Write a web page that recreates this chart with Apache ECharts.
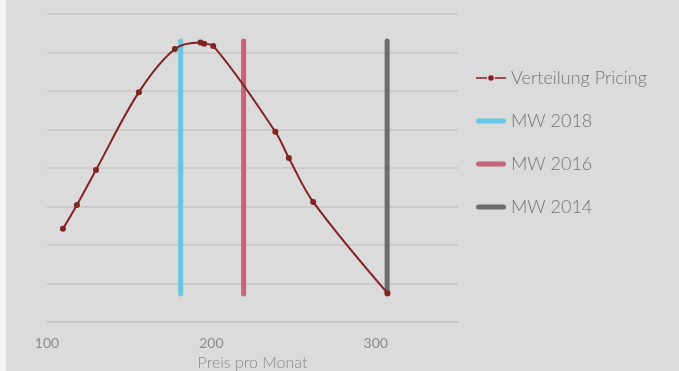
<!DOCTYPE html>
<html>
<head>
<meta charset="utf-8">
<script src="https://cdn.jsdelivr.net/npm/echarts@6/dist/echarts.min.js"></script>
<style>
  html, body { margin: 0; padding: 0; background: #f4f4f4; }
  #chart { position: absolute; left: 6px; top: 0; width: 673px; height: 371px; background: #dbdbdb; }
</style>
</head>
<body>
<div id="chart"></div>
<script>
// Preis pro Monat (x) und Verteilung (y, ohne Beschriftung)
const priceX = [109.7, 118.2, 129.8, 155.9, 177.8, 193.4, 195.6, 201.1, 238.9, 247.1, 261.9, 307.1]
const share = [2.42, 3.04, 3.95, 5.97, 7.09, 7.26, 7.23, 7.17, 4.94, 4.26, 3.12, 0.75]

// Mittelwerte der Jahre
const mwNames = ['MW 2018', 'MW 2016', 'MW 2014']
const mwValues = [181.3, 219.6, 306.9]
const mwColors = ['#64c7e7', '#c06676', '#6d6d6d']
const mwRange = [0.73, 7.3]

const xTicks = [100, 200, 300]

const font = 'Lato, "Open Sans", sans-serif'
const curveColor = '#832222'

// Legendensymbole: Linie mit Punkt bzw. abgerundeter Balken
const dotIcon = 'path://M0,4 H11 V5.6 H0 Z M19,4 H30 V5.6 H19 Z M15,2 A2.8,2.8 0 1 1 15,7.6 A2.8,2.8 0 1 1 15,2 Z'
const barIcon = 'path://M2.5,0 H27.5 A2.5,2.5 0 0 1 27.5,5 H2.5 A2.5,2.5 0 0 1 2.5,0 Z'

const chart = echarts.init(document.getElementById('chart'))

const mwSeries = mwNames.map((name, i) => ({
  name,
  type: 'line',
  symbol: 'none',
  silent: true,
  z: 1,
  lineStyle: { width: 5, color: mwColors[i], cap: 'round' },
  itemStyle: { color: mwColors[i] },
  data: mwRange.map(y => [mwValues[i], y])
}))

chart.setOption({
  animation: false,
  textStyle: { fontFamily: font },
  grid: { left: 41, right: 221, top: 14, bottom: 49, outerBoundsMode: 'none' },
  legend: {
    orient: 'vertical',
    left: 465,
    top: 64,
    itemGap: 25,
    itemWidth: 30,
    itemHeight: 16,
    symbolKeepAspect: true,
    textStyle: { color: '#757575', fontSize: 18, fontWeight: 300, fontFamily: font },
    data: [
      { name: 'Verteilung Pricing', icon: dotIcon },
      ...mwNames.map(name => ({ name, icon: barIcon }))
    ]
  },
  xAxis: {
    type: 'value',
    min: 100,
    max: 350,
    interval: 100,
    name: 'Preis pro Monat',
    nameLocation: 'middle',
    nameGap: 33,
    nameTextStyle: { color: '#888888', fontSize: 16, fontWeight: 300 },
    axisLine: { show: true, lineStyle: { color: '#c6c6c6', width: 1.5 } },
    axisTick: { show: false },
    splitLine: { show: false },
    axisLabel: {
      color: '#8c8c8c', fontSize: 14, margin: 14, showMaxLabel: false,
      formatter: v => xTicks.includes(v) ? String(v) : ''
    }
  },
  yAxis: {
    type: 'value',
    min: 0,
    max: 8,
    interval: 1,
    axisLine: { show: false },
    axisTick: { show: false },
    axisLabel: { show: false },
    splitLine: { lineStyle: { color: '#c6c6c6', width: 1.5 } }
  },
  series: [
    {
      name: 'Verteilung Pricing',
      type: 'line',
      smooth: 0.35,
      symbol: 'circle',
      symbolSize: 6,
      z: 3,
      lineStyle: { width: 2, color: curveColor },
      itemStyle: { color: curveColor },
      data: priceX.map((x, i) => [x, share[i]])
    },
    ...mwSeries
  ]
})
</script>
</body>
</html>
